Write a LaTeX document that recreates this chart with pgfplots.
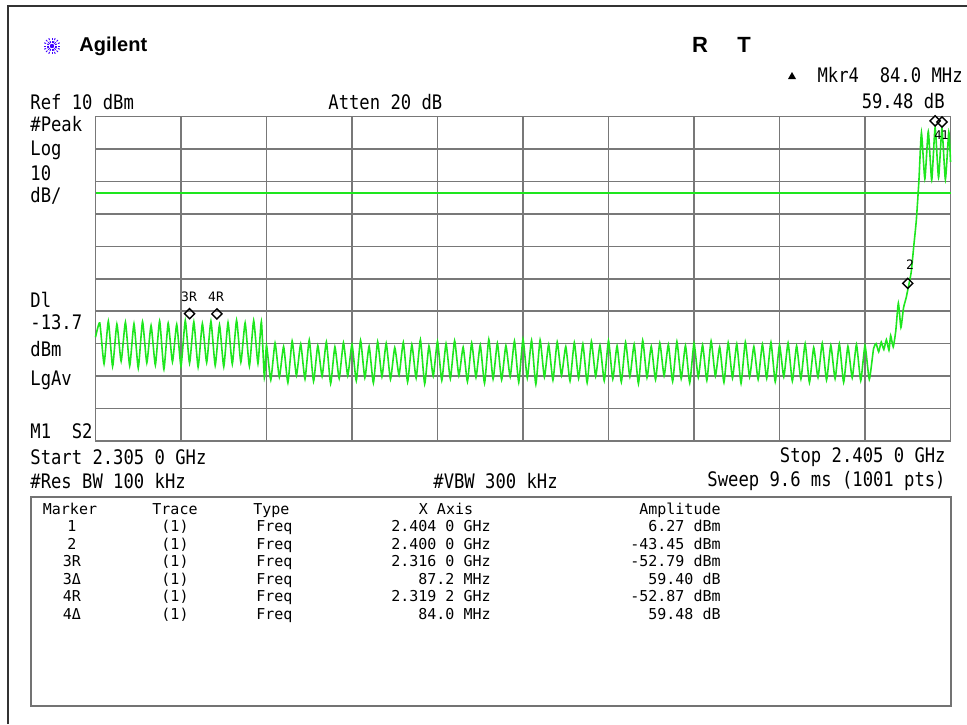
\documentclass[border=0pt]{standalone}
\usepackage{pgfplots}
\pgfplotsset{compat=1.18}
\usepackage{fontspec}
\newfontfamily\scr[FakeStretch=0.86]{DejaVu Sans Mono}
\newfontfamily\tbl{DejaVu Sans Mono}
\newfontfamily\agil{Liberation Sans}
\definecolor{trace}{RGB}{30,230,30}
\definecolor{gridc}{RGB}{120,120,120}

\begin{document}
\begin{tikzpicture}
% page = 967 x 724 px, 1 px = 0.5pt
\path[use as bounding box] (0,0) rectangle (483.5pt,-362pt);

\begin{axis}[
    at={(47.75pt,-220.5pt)}, anchor=south west,
    width=427.5pt, height=162.25pt, scale only axis,
    xmin=0, xmax=100, ymin=-90, ymax=10,
    xtick={0,10,...,100}, ytick={-90,-80,...,10},
    xticklabels={}, yticklabels={},
    major tick length=0pt,
    grid=major,
    grid style={gridc, line width=0.75pt},
    axis line style={gridc, line width=0.9pt},
    clip=false,
]
% display line
\addplot[trace, line width=1pt] coordinates {(0,-13.7) (100,-13.7)};
% trace 1 (x in MHz from 2.305 GHz, y in dBm)
\addplot[trace, line width=0.8pt, smooth, tension=0.3] table {
x y
0.0 -58.0
0.5 -53.6
1.0 -66.2
1.5 -53.1
2.0 -67.0
2.5 -54.0
3.0 -65.4
3.5 -53.4
4.0 -66.8
4.5 -53.9
5.0 -67.5
5.5 -53.2
6.0 -65.9
6.5 -54.4
7.0 -66.6
7.5 -53.0
8.0 -67.9
8.5 -53.7
9.0 -65.6
9.5 -54.1
10.0 -66.9
10.5 -52.9
11.0 -66.0
11.5 -53.3
12.0 -67.2
12.5 -53.8
13.0 -65.8
13.5 -53.1
14.0 -66.7
14.5 -54.2
15.0 -67.1
15.5 -53.5
16.0 -66.3
16.5 -52.8
17.0 -65.7
17.5 -53.6
18.0 -66.9
18.5 -52.9
19.0 -66.1
19.4 -53.2
19.75 -70.5
20.0 -60.5
20.5 -71.2
21.0 -59.8
21.5 -70.3
22.0 -60.9
22.5 -72.0
23.0 -59.2
23.5 -69.8
24.0 -60.1
24.5 -70.9
25.0 -58.9
25.5 -71.6
26.0 -60.6
26.5 -70.1
27.0 -59.5
27.5 -72.3
28.0 -61.0
28.5 -70.7
29.0 -59.7
29.5 -69.9
30.0 -60.2
30.5 -71.4
31.0 -59.0
31.5 -70.5
32.0 -60.8
32.5 -72.1
33.0 -59.4
33.5 -70.2
34.0 -59.9
34.5 -71.0
35.0 -61.2
35.5 -69.7
36.0 -59.6
36.5 -71.8
37.0 -60.3
37.5 -70.6
38.0 -58.8
38.5 -72.4
39.0 -60.7
39.5 -70.0
40.0 -59.3
40.5 -71.3
41.0 -60.0
41.5 -70.8
42.0 -59.1
42.5 -69.9
43.0 -61.1
43.5 -71.7
44.0 -59.8
44.5 -70.4
45.0 -60.4
45.5 -72.2
46.0 -58.7
46.5 -70.9
47.0 -59.9
47.5 -71.1
48.0 -60.6
48.5 -70.2
49.0 -59.2
49.5 -71.9
50.0 -58.6
50.5 -70.6
51.0 -59.0
51.5 -72.5
52.0 -58.9
52.5 -70.3
53.0 -60.3
53.5 -71.2
54.0 -59.5
54.5 -69.8
55.0 -60.9
55.5 -71.5
56.0 -59.7
56.5 -70.7
57.0 -60.1
57.5 -72.0
58.0 -59.3
58.5 -70.1
59.0 -60.5
59.5 -71.4
60.0 -59.1
60.5 -70.9
61.0 -60.7
61.5 -71.8
62.0 -59.6
62.5 -70.2
63.0 -60.2
63.5 -72.3
64.0 -59.0
64.5 -70.5
65.0 -60.8
65.5 -71.1
66.0 -59.8
66.5 -69.9
67.0 -60.3
67.5 -71.6
68.0 -59.4
68.5 -70.8
69.0 -60.6
69.5 -72.1
70.0 -59.9
70.5 -70.4
71.0 -60.4
71.5 -71.3
72.0 -59.2
72.5 -70.0
73.0 -61.0
73.5 -71.9
74.0 -59.7
74.5 -70.6
75.0 -60.1
75.5 -72.2
76.0 -59.5
76.5 -70.3
77.0 -60.9
77.5 -71.0
78.0 -60.2
78.5 -70.7
79.0 -59.6
79.5 -71.7
80.0 -60.4
80.5 -70.2
81.0 -59.8
81.5 -71.5
82.0 -60.7
82.5 -70.9
83.0 -60.0
83.5 -72.0
84.0 -61.2
84.5 -70.4
85.0 -59.9
85.5 -71.2
86.0 -60.5
86.5 -70.8
87.0 -60.1
87.5 -71.9
88.0 -60.8
88.5 -70.5
89.0 -60.3
89.5 -71.4
90.0 -60.6
90.5 -71.0
91.0 -61.5
91.3 -60.0
91.6 -62.5
91.9 -59.5
92.2 -61.8
92.5 -58.8
92.8 -62.0
93.0 -57.5
93.3 -61.0
93.6 -56.0
93.9 -47.5
94.2 -55.0
94.5 -49.0
94.8 -46.0
95.0 -43.45
95.4 -38.0
95.7 -30.0
96.0 -22.0
96.3 -10.0
96.6 5.0
97.0 -9.2
97.4 5.4
97.8 -9.6
98.2 6.61
98.6 -8.8
99.0 6.27
99.4 -9.4
99.8 5.2
100.0 -4.0
};
% markers
\addplot[only marks, mark=square, mark size=1.8pt,
    mark options={draw=black, fill=white, line width=0.7pt, yshift=3.3pt, rotate=45}]
    coordinates {(11,-52.79) (14.2,-52.87) (95,-43.45) (98.2,6.61) (99,6.27)};
\end{axis}

\begin{scope}[x=0.5pt, y=-0.5pt]
% outer frame
\draw[black!80, line width=1pt] (8,724) -- (8,6) -- (967,6);
% Agilent logo
\foreach \a in {0,22.5,...,337.5}
  \draw[blue!75!magenta, line width=0.5pt, dash pattern=on 1pt off 0.6pt]
    (52,46) -- ++(\a:9);
\node[anchor=west, inner sep=0] at (79,46) {\agil\fontsize{10}{12}\selectfont\bfseries Agilent};
\node[inner sep=0] at (700,45) {\agil\fontsize{11}{13}\selectfont\bfseries R};
\node[inner sep=0] at (744,45) {\agil\fontsize{11}{13}\selectfont\bfseries T};
% header texts
\fill[black] (788,79) -- (796,79) -- (792,72) -- cycle;
\node[anchor=east, inner sep=0] at (963,75) {\scr\fontsize{10}{12}\selectfont Mkr4\ \ 84.0 MHz};
\node[anchor=west, inner sep=0] at (30,102) {\scr\fontsize{10}{12}\selectfont Ref 10 dBm};
\node[anchor=west, inner sep=0] at (328,102) {\scr\fontsize{10}{12}\selectfont Atten 20 dB};
\node[anchor=east, inner sep=0] at (945,101) {\scr\fontsize{10}{12}\selectfont 59.48 dB};
% left labels
\node[anchor=west, inner sep=0] at (30,124) {\scr\fontsize{10}{12}\selectfont \#Peak};
\node[anchor=west, inner sep=0] at (30,150) {\scr\fontsize{10}{12}\selectfont Log};
\node[anchor=west, inner sep=0] at (30,173) {\scr\fontsize{10}{12}\selectfont 10};
\node[anchor=west, inner sep=0] at (30,196) {\scr\fontsize{10}{12}\selectfont dB/};
\node[anchor=west, inner sep=0] at (30,300) {\scr\fontsize{10}{12}\selectfont Dl};
\node[anchor=west, inner sep=0] at (30,322) {\scr\fontsize{10}{12}\selectfont -13.7};
\node[anchor=west, inner sep=0] at (30,349) {\scr\fontsize{10}{12}\selectfont dBm};
\node[anchor=west, inner sep=0] at (30,380) {\scr\fontsize{10}{12}\selectfont LgAv};
\node[anchor=west, inner sep=0] at (30,431) {\scr\fontsize{10}{12}\selectfont M1\ \ S2};
% bottom lines
\node[anchor=west, inner sep=0] at (30,457) {\scr\fontsize{10}{12}\selectfont Start 2.305 0 GHz};
\node[anchor=east, inner sep=0] at (946,457) {\scr\fontsize{10}{12}\selectfont Stop 2.405 0 GHz};
\node[anchor=west, inner sep=0] at (30,481) {\scr\fontsize{10}{12}\selectfont \#Res BW 100 kHz};
\node[anchor=west, inner sep=0] at (433,481) {\scr\fontsize{10}{12}\selectfont \#VBW 300 kHz};
\node[anchor=east, inner sep=0] at (946,481) {\scr\fontsize{10}{12}\selectfont Sweep 9.6 ms (1001 pts)};
% marker labels on the screen
\node[inner sep=0] at (189,297) {\tbl\fontsize{6.5}{8}\selectfont 3R};
\node[inner sep=0] at (216,297) {\tbl\fontsize{6.5}{8}\selectfont 4R};
\node[inner sep=0] at (910,265) {\tbl\fontsize{6.5}{8}\selectfont 2};
\node[inner sep=0] at (938,135) {\tbl\fontsize{6}{7}\selectfont 4};
\node[inner sep=0] at (945,135) {\tbl\fontsize{6}{7}\selectfont 1};
% marker table
\draw[black!55, line width=1.2pt] (31,497) rectangle (951,706);
\node[anchor=base, inner sep=0] at (70,514) {\tbl\fontsize{7.5}{9}\selectfont Marker};
\node[anchor=base, inner sep=0] at (175,514) {\tbl\fontsize{7.5}{9}\selectfont Trace};
\node[anchor=base west, inner sep=0] at (253,514) {\tbl\fontsize{7.5}{9}\selectfont Type};
\node[anchor=base, inner sep=0] at (446,514) {\tbl\fontsize{7.5}{9}\selectfont X Axis};
\node[anchor=base east, inner sep=0] at (721,514) {\tbl\fontsize{7.5}{9}\selectfont Amplitude};
\foreach \m/\xv/\av [count=\i] in {1/2.404 0 GHz/6.27 dBm, 2/2.400 0 GHz/-43.45 dBm, 3R/2.316 0 GHz/-52.79 dBm, 3Δ/87.2 MHz/59.40 dB, 4R/2.319 2 GHz/-52.87 dBm, 4Δ/84.0 MHz/59.48 dB}
{
  \node[anchor=base, inner sep=0] at (72,514+17.5*\i) {\tbl\fontsize{7.5}{9}\selectfont \m};
  \node[anchor=base, inner sep=0] at (175,514+17.5*\i) {\tbl\fontsize{7.5}{9}\selectfont (1)};
  \node[anchor=base west, inner sep=0] at (256,514+17.5*\i) {\tbl\fontsize{7.5}{9}\selectfont Freq};
  \node[anchor=base east, inner sep=0] at (491,514+17.5*\i) {\tbl\fontsize{7.5}{9}\selectfont \xv};
  \node[anchor=base east, inner sep=0] at (721,514+17.5*\i) {\tbl\fontsize{7.5}{9}\selectfont \av};
}
\end{scope}
\end{tikzpicture}
\end{document}
